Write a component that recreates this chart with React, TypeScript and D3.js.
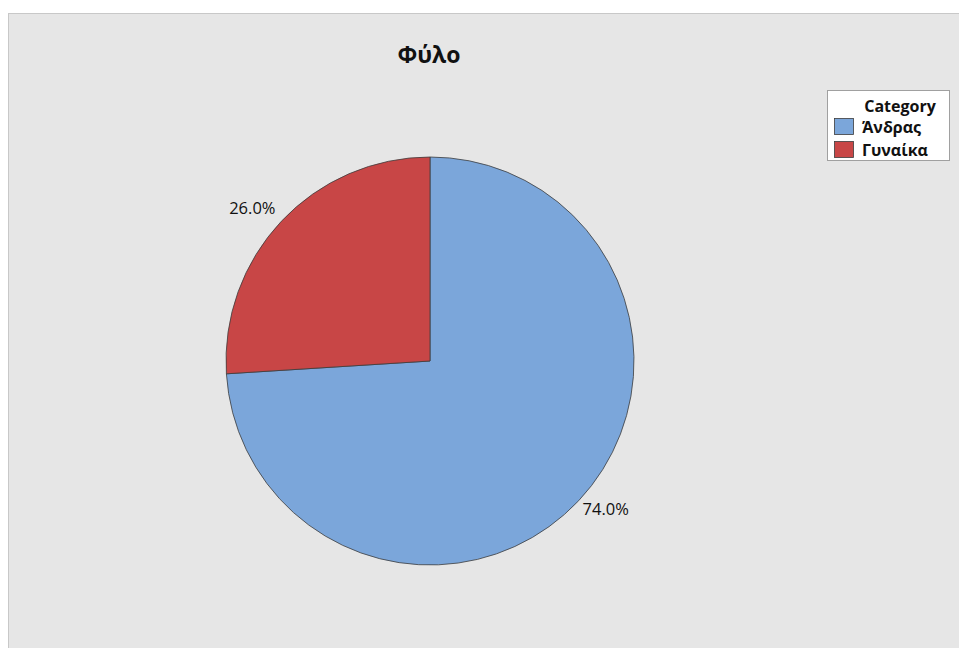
import React from "react";
import * as d3 from "d3";

const categories = ["Άνδρας", "Γυναίκα"];
const values = [74.0, 26.0];
const colors = ["#7BA6DA", "#C84646"];
const title = "Φύλο";
const legendTitle = "Category";

export default function App() {
  const W = 959, H = 648;
  const cx = 430, cy = 361, r = 204;
  const pie = d3.pie<number>().sort(null).value((d) => d)(values);
  const arc = d3.arc<d3.PieArcDatum<number>>().innerRadius(0).outerRadius(r);
  const labelArc = d3.arc<d3.PieArcDatum<number>>().innerRadius(424).outerRadius(0);
  const font = "'Open Sans', 'Noto Sans', sans-serif";
  return (
    <svg width={W} height={H} style={{ position: "absolute", left: 0, top: 0, display: "block" }}>
      <rect x={0} y={0} width={W} height={H} fill="#ffffff" />
      <rect x={8.5} y={13.5} width={W} height={H} fill="#E6E6E6" stroke="#C8C8C8" />
      <text x={429} y={63} textAnchor="middle" fontFamily={font} fontWeight="bold" fontSize={23} fill="#111">{title}</text>
      <g transform={`translate(${cx},${cy})`}>
        {pie.map((p, i) => (
          <path key={i} d={arc(p) || ""} fill={colors[i]} stroke="#3C3C3C" strokeWidth={0.8} />
        ))}
        {pie.map((p, i) => {
          const [x, y] = labelArc.centroid(p);
          const right = x >= 0;
          return (
            <text key={"l" + i} x={right ? x - 2 : x} y={right ? y + 9 : y - 2}
              textAnchor={right ? "start" : "end"} fontFamily={font} fontSize={16.5} fill="#111">
              {values[i].toFixed(1) + "%"}
            </text>
          );
        })}
      </g>
      <g>
        <rect x={827.5} y={90.5} width={122} height={70} fill="#fff" stroke="#A0A0A0" />
        <text x={900} y={112} textAnchor="middle" fontFamily={font} fontWeight="bold" fontSize={16} fill="#111">{legendTitle}</text>
        {categories.map((c, i) => (
          <g key={c}>
            <rect x={834.5} y={118.5 + i * 23} width={19} height={16} fill={colors[i]} stroke="#3C3C3C" strokeWidth={0.8} />
            <text x={862} y={133 + i * 23} fontFamily={font} fontWeight="bold" fontSize={16} fill="#111">{c}</text>
          </g>
        ))}
      </g>
    </svg>
  );
}
